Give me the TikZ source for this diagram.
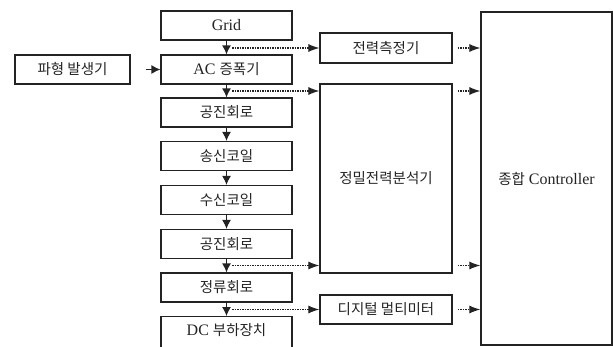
\documentclass[tikz,border=0pt]{standalone}
\usepackage{fontspec}
\setmainfont{Liberation Serif}
\newfontfamily\krfont{Noto Sans CJK KR}
\newcommand{\kor}[1]{{\krfont\fontsize{14.5pt}{17pt}\selectfont #1}}
\usetikzlibrary{arrows.meta,calc}
\definecolor{ln}{RGB}{35,35,35}
\begin{document}
\begin{tikzpicture}[x=1pt,y=-1pt,
  box/.style={draw=ln,line width=1.2pt,inner sep=0pt,text=ln,minimum width=131pt,minimum height=29pt,font=\fontsize{16pt}{19pt}\selectfont},
  solidarr/.style={draw=ln,line width=1.2pt,-{Latex[length=9pt,width=9pt]}},
  dotarr/.style={draw=ln,line width=1.1pt,dash pattern=on 1.5pt off 1pt,-{Latex[length=11pt,width=8pt]}}]
\useasboundingbox (0,0) rectangle (613,346);
\clip (0,0) rectangle (613,346);
% center column
\node[box] (grid) at (226.5,25.5) {Grid};
\node[box] (ac) at (226.5,69.5) {AC \kor{증폭기}};
\node[box] (res1) at (226.5,112.5) {\kor{공진회로}};
\node[box] (tx) at (226.5,156) {\kor{송신코일}};
\node[box] (rx) at (226.5,200) {\kor{수신코일}};
\node[box] (res2) at (226.5,244) {\kor{공진회로}};
\node[box] (rect) at (226.5,287.5) {\kor{정류회로}};
\node[box,minimum height=40pt,anchor=north] (dc) at (226.5,316) {};
\node[text=ln,font=\fontsize{16pt}{19pt}\selectfont] (dclabel) at (226.5,330.5) {DC \kor{부하장치}};
% left
\node[box,minimum width=115pt] (wave) at (72.5,69.5) {\kor{파형 발생기}};
% side boxes
\node[box,minimum width=132pt,minimum height=30pt] (pm) at (386,48) {\kor{전력측정기}};
\node[box,minimum width=132pt,minimum height=189pt] (pa) at (386,178.5) {\kor{정밀전력분석기}};
\node[box,minimum width=132pt,minimum height=29pt] (dmm) at (386,309.5) {\kor{디지털 멀티미터}};
\node[box,minimum width=131pt,minimum height=333pt] (ctrl) at (546.5,178.5) {\kor{종합} Controller};
% vertical arrows
\draw[solidarr] (grid) -- (ac);
\draw[solidarr] (ac) -- (res1);
\draw[solidarr] (res1) -- (tx);
\draw[solidarr] (tx) -- (rx);
\draw[solidarr] (rx) -- (res2);
\draw[solidarr] (res2) -- (rect);
\draw[solidarr] (rect) -- (dc);
\draw[solidarr,shorten <=15pt] (wave) -- (ac);
% tap coordinates
\coordinate (t1) at (232,48);
\coordinate (t2) at (232,91);
\coordinate (t3) at (232,265.5);
\coordinate (t4) at (232,309.5);
\draw[dotarr] (t1) -- (pm.west |- t1);
\draw[dotarr] (t2) -- (pa.west |- t2);
\draw[dotarr] (t3) -- (pa.west |- t3);
\draw[dotarr] (t4) -- (dmm.west |- t4);
% to controller
\draw[dotarr,shorten <=5pt] (pm.east |- t1) -- (ctrl.west |- t1);
\draw[dotarr,shorten <=5pt] (pa.east |- t2) -- (ctrl.west |- t2);
\draw[dotarr,shorten <=5pt] (pa.east |- t3) -- (ctrl.west |- t3);
\draw[dotarr,shorten <=5pt] (dmm.east |- t4) -- (ctrl.west |- t4);
\end{tikzpicture}
\end{document}
